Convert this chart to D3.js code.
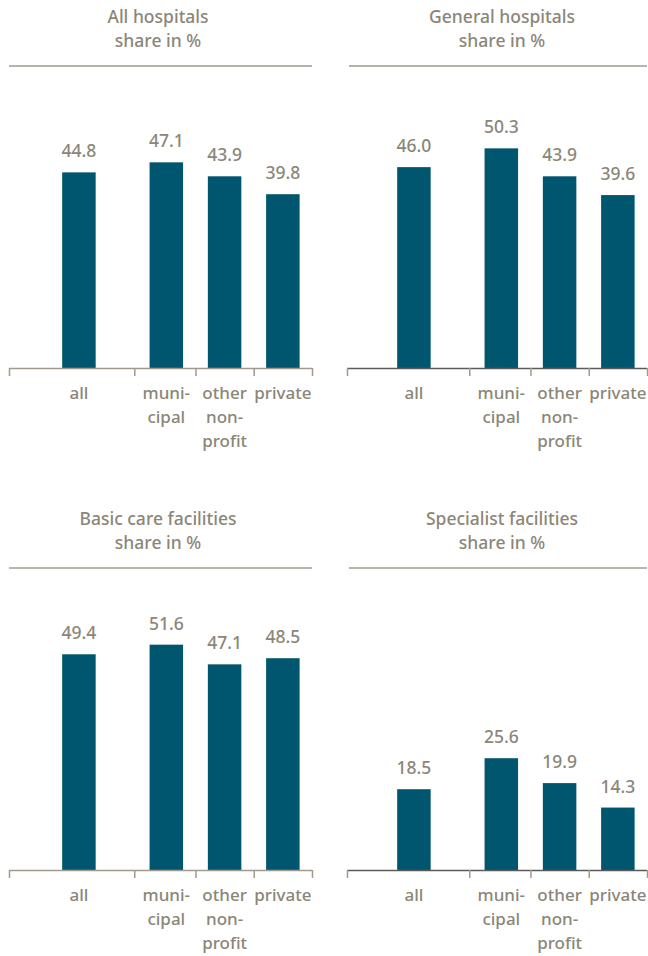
<!DOCTYPE html>
<html>
<head>
<meta charset="utf-8">
<script src="https://cdn.jsdelivr.net/npm/d3@7"></script>
<style>
  html, body { margin: 0; padding: 0; background: #fff; }
  svg { display: block; }
  text { font-family: "Noto Sans", sans-serif; font-weight: 500; fill: #8b8678; }
</style>
</head>
<body>
<svg id="chart" width="648" height="956"></svg>
<script>
// Ownership categories shown on every panel
const categories = ["all", "municipal", "other", "private"];
const categoryLabels = [["all"], ["muni-", "cipal"], ["other", "non-", "profit"], ["private"]];

// Panel titles
const panelTitles = ["All hospitals", "General hospitals", "Basic care facilities", "Specialist facilities"];
const subtitle = "share in %";

// Shares in % per panel, in category order
const allHospitals = [44.8, 47.1, 43.9, 39.8];
const generalHospitals = [46.0, 50.3, 43.9, 39.6];
const basicCare = [49.4, 51.6, 47.1, 48.5];
const specialist = [18.5, 25.6, 19.9, 14.3];

const panelValues = [allHospitals, generalHospitals, basicCare, specialist];

const BAR = "#00566f";
const LINE = "#a09b8e";
const svg = d3.select("#chart");

// Layout of the 2x2 grid
const panelX = [9, 344];
const panelY = [0, 502];
const panelW = 303;
const titleX = [149, 158];
const leftInset = [0, 3];   // right-hand column starts its rules a little further in
const axisColor = [LINE, "#5c5b57"];

// Slot position of each category along the axis ("all" set apart from the rest)
const slot = { all: 0, municipal: 1.5, other: 2.5, private: 3.5 };

panelValues.forEach((values, i) => {
  const col = i % 2, row = Math.floor(i / 2);
  const x0 = panelX[col], y0 = panelY[row];
  const g = svg.append("g").attr("transform", `translate(${x0},${y0})`);

  const x = d3.scaleLinear().domain([-1.2, 4]).range([0, panelW]);
  const y = d3.scaleLinear().domain([0, 60]).range([368, 106]);
  const bw = x(0.575) - x(0);
  const left = leftInset[col];

  // title
  const t = g.append("text")
    .attr("text-anchor", "middle")
    .style("font-size", "17.5px");
  t.append("tspan").attr("x", titleX[col]).attr("y", 23).text(panelTitles[i]);
  t.append("tspan").attr("x", titleX[col]).attr("y", 47).text(subtitle);

  g.append("line")
    .attr("x1", left + (col ? 2 : 0)).attr("x2", panelW)
    .attr("y1", 66).attr("y2", 66)
    .attr("stroke", LINE).attr("stroke-width", 1.5);

  // bars
  g.selectAll("rect.bar")
    .data(values)
    .join("rect")
    .attr("class", "bar")
    .attr("x", (d, j) => x(slot[categories[j]]) - bw / 2)
    .attr("width", bw)
    .attr("y", d => y(d))
    .attr("height", d => y(0) - y(d))
    .attr("fill", BAR);

  // value labels
  g.selectAll("text.val")
    .data(values)
    .join("text")
    .attr("class", "val")
    .attr("text-anchor", "middle")
    .attr("x", (d, j) => x(slot[categories[j]]))
    .attr("y", d => y(d) - 15)
    .style("font-size", "17.5px")
    .text(d => d.toFixed(1));

  // axis with ticks at the section boundaries
  const boundaries = [x.invert(left), 0.95, 2, 3, 4];
  const axis = d3.axisBottom(x)
    .tickValues(boundaries)
    .tickSize(8)
    .tickSizeOuter(0)
    .tickFormat("");
  const ag = g.append("g").attr("transform", `translate(0,${y(0)})`).call(axis);
  ag.select(".domain").attr("stroke", axisColor[col]).attr("stroke-width", 1.5)
    .attr("d", `M${left},0.5H${panelW}`);
  ag.selectAll(".tick line").attr("stroke", LINE).attr("stroke-width", 1.5);

  // category labels
  categories.forEach((c, j) => {
    const lt = g.append("text")
      .attr("text-anchor", "middle")
      .style("font-size", "17px");
    categoryLabels[j].forEach((s, k) => {
      lt.append("tspan")
        .attr("x", x(slot[c]))
        .attr("y", 399 + k * 24)
        .text(s);
    });
  });
});
</script>
</body>
</html>
